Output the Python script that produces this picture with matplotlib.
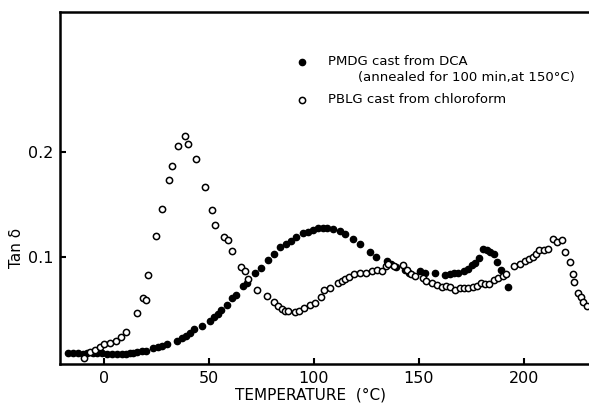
import numpy as np
import matplotlib
matplotlib.use("Agg")
import matplotlib.pyplot as plt

# PMDG cast from DCA (filled circles)
pmdg_t = [-17, -14.6, -12.2, -9.9, -8, -5.4, -3.2, -1.1, 1.3, 3.7, 6, 8.4, 10.5,
          12.4, 14, 15.9, 18, 20, 23.5, 25.9, 27.5, 29.8, 34.6, 37, 39, 41, 43,
          46.5, 50.5, 52.4, 54.4, 55.6, 58.4, 60.8, 62.9, 66.3, 68.2, 71.9, 74.8,
          78.2, 81, 83.8, 86.7, 88.9, 91.4, 94.9, 97.3, 99.4, 102, 104.4, 106.3,
          108.9, 112.4, 114.8, 118.7, 121.9, 126.7, 129.5, 134.6, 136.5, 139,
          143.3, 145.4, 150.5, 153, 157.6, 162.4, 164.8, 166.7, 168.7, 171.4,
          173.5, 175.1, 176.7, 178.7, 180.6, 182.5, 183.8, 185.7, 187, 188.9, 192.5]
pmdg_tan = [0.0089, 0.0089, 0.0083, 0.0076, 0.0083, 0.0089, 0.0083, 0.0083, 0.0076,
            0.0076, 0.0073, 0.0073, 0.0076, 0.0083, 0.0089, 0.0098, 0.0105, 0.0108,
            0.0137, 0.0146, 0.0152, 0.0171, 0.0203, 0.0225, 0.0248, 0.0273, 0.031,
            0.0343, 0.0394, 0.043, 0.0457, 0.0495, 0.054, 0.0606, 0.0638, 0.0724,
            0.0755, 0.085, 0.0898, 0.097, 0.1029, 0.1098, 0.1124, 0.1155, 0.1187,
            0.1225, 0.124, 0.1257, 0.1273, 0.1273, 0.1273, 0.1264, 0.125, 0.1216,
            0.1168, 0.112, 0.105, 0.1003, 0.096, 0.093, 0.0908, 0.0876, 0.085,
            0.0867, 0.085, 0.085, 0.083, 0.0838, 0.0845, 0.085, 0.0867, 0.089,
            0.0924, 0.0946, 0.0987, 0.108, 0.1067, 0.105, 0.103, 0.0955, 0.0876, 0.0717]

# PBLG cast from chloroform (open circles)
pblg_t = [-9.5, -6.7, -4.3, -1.9, 0, 2.9, 5.7, 8, 10.3, 15.7, 18.6, 20, 21, 24.8,
          27.7, 31.1, 32.5, 35.4, 38.7, 40.1, 43.8, 48.2, 51.3, 53, 57, 59.2, 61.1,
          65.1, 67.1, 68.6, 72.9, 77.8, 81.1, 83, 84.6, 86.2, 87.8, 91, 93, 95.2,
          98.1, 100.5, 103.2, 104.9, 107.6, 111.3, 113.2, 114.8, 116.8, 119, 121.9,
          124.8, 127.8, 130.1, 132.2, 134.3, 135.4, 138.1, 142.2, 144.1, 146, 148.2,
          152, 153.3, 156, 158.4, 160.8, 162.9, 165, 167.1, 169.5, 171.4, 173.5,
          175.6, 177.5, 179.4, 181.4, 183.3, 185.7, 187.8, 189.9, 191.4, 195.2,
          198.1, 200.5, 202.5, 204.1, 205.7, 207.3, 209.5, 211.6, 213.7, 215.6,
          217.9, 219.5, 221.9, 223.2, 223.9, 225.9, 227, 228.2, 229.9]
pblg_tan = [0.004, 0.0098, 0.0114, 0.0146, 0.0171, 0.0184, 0.0197, 0.0235, 0.0289,
            0.047, 0.061, 0.059, 0.083, 0.12, 0.146, 0.173, 0.187, 0.206, 0.215,
            0.208, 0.193, 0.167, 0.145, 0.130, 0.119, 0.116, 0.106, 0.090, 0.087,
            0.079, 0.069, 0.063, 0.057, 0.053, 0.050, 0.049, 0.049, 0.048, 0.049,
            0.051, 0.054, 0.056, 0.062, 0.069, 0.070, 0.075, 0.077, 0.079, 0.081,
            0.084, 0.085, 0.085, 0.087, 0.088, 0.087, 0.091, 0.093, 0.091, 0.092,
            0.088, 0.084, 0.082, 0.080, 0.077, 0.075, 0.073, 0.071, 0.072, 0.071,
            0.069, 0.070, 0.070, 0.070, 0.071, 0.072, 0.075, 0.074, 0.074, 0.078,
            0.080, 0.082, 0.084, 0.091, 0.093, 0.096, 0.098, 0.100, 0.103, 0.107,
            0.107, 0.108, 0.117, 0.114, 0.116, 0.105, 0.095, 0.084, 0.076, 0.066,
            0.062, 0.057, 0.053]

xticks = [0, 50, 100, 150, 200]
yticks = [0.1, 0.2]

fig = plt.figure(figsize=(5.89, 4.07), dpi=100)
ax = fig.add_axes([0.1019, 0.1057, 0.898, 0.865])

ax.plot(pmdg_t, pmdg_tan, 'o', color='black', markersize=4.5, linestyle='none')
ax.plot(pblg_t, pblg_tan, 'o', markerfacecolor='white', markeredgecolor='black',
        markeredgewidth=1.1, markersize=4.5, linestyle='none')

ax.set_xlim(-20.95, 230.95)
ax.set_ylim(-0.0019, 0.3333)
ax.set_xticks(xticks)
ax.set_xticklabels([str(v) for v in xticks])
ax.set_yticks(yticks)
ax.set_yticklabels(['0.1', '0.2'])
ax.tick_params(direction='in', length=4, width=1.5, labelsize=11.5, pad=5)

for s in ['left', 'bottom', 'top']:
    ax.spines[s].set_linewidth(1.8)
ax.spines['right'].set_visible(False)

ax.set_xlabel('TEMPERATURE  (°C)', fontsize=11)
ax.xaxis.set_label_coords(0.474, -0.066)
ax.set_ylabel('Tan δ', fontsize=11)
ax.yaxis.set_label_coords(-0.068, 0.33)

# in-plot key
ax.plot([94.3], [0.2857], 'o', color='black', markersize=4.5, linestyle='none')
ax.plot([94.3], [0.2496], 'o', markerfacecolor='white', markeredgecolor='black',
        markeredgewidth=1.1, markersize=4.5, linestyle='none')
ax.text(106.7, 0.2857, 'PMDG cast from DCA', fontsize=9.5, va='center')
ax.text(121, 0.2705, '(annealed for 100 min,at 150°C)', fontsize=9.5, va='center')
ax.text(106.7, 0.2496, 'PBLG cast from chloroform', fontsize=9.5, va='center')

fig.savefig('out.png', dpi=100)
